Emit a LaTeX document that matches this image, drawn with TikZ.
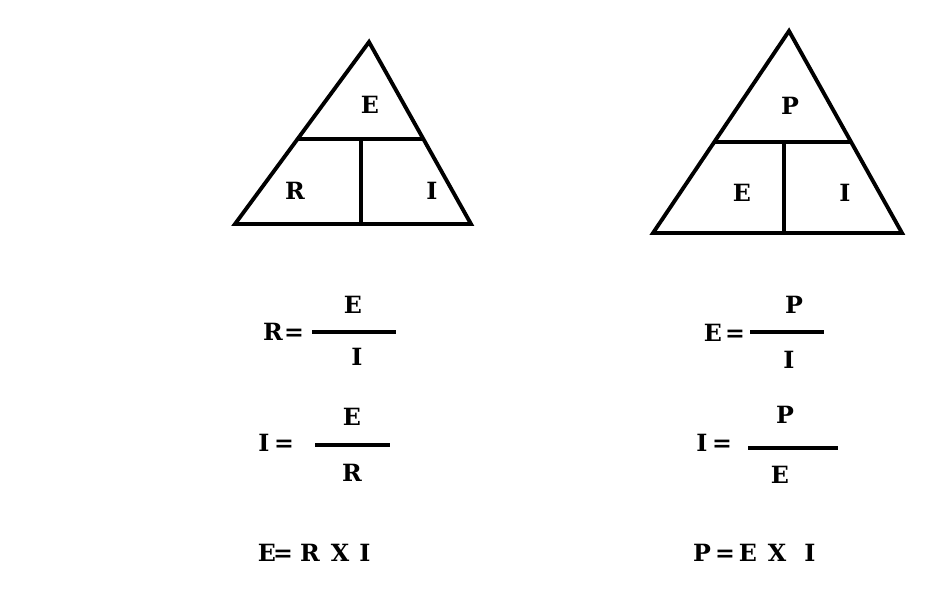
\documentclass[tikz,border=0pt]{standalone}
\usepackage{fontspec}
\setmainfont{DejaVu Serif}

\begin{document}
\begin{tikzpicture} [x=0.02cm, y=-0.02cm,
	sym/.style={font=\fontsize{13.5}{15}\selectfont\bfseries, inner sep=0pt, anchor=base},
	tri/.style={line width=2.2pt, line join=miter},
	bar/.style={line width=1.9pt}]
\useasboundingbox (0,0) rectangle (926,592);

% left triangle
\draw [tri] (369,42) -- (235,224) -- (471,224) -- cycle;
\draw [tri] (298,139) -- (423,139);
\draw [tri] (361,139) -- (361,224);
% labels
\node [sym] (tE) at (370,113) {E};
\node [sym] (tR) at (295,199) {R};
\node [sym] (tI) at (432,199) {I};

% right triangle
\draw [tri] (789,31) -- (653,233) -- (902,233) -- cycle;
\draw [tri] (714,142) -- (851,142);
\draw [tri] (784,142) -- (784,233);
% labels
\node [sym] (tP) at (790,114) {P};
\node [sym] (tE2) at (742,201) {E};
\node [sym] (tI2) at (845,201) {I};

% R = E / I
\node [sym] (r1) at (273,340) {R};
\node [sym] (eq1) at (294,340) {=};
\draw [bar] (312,332) -- (396,332);
\node [sym] (n1) at (353,313) {E};
\node [sym] (d1) at (357,365) {I};

% I = E / R
\node [sym] (i2) at (264,451) {I};
\node [sym] (eq2) at (284,451) {=};
\draw [bar] (315,445) -- (390,445);
\node [sym] (n2) at (352,425) {E};
\node [sym] (d2) at (352,481) {R};

% E = R X I
\node [sym] (e3) at (267,561) {E};
\node [sym] (eq3) at (283,561) {=};
\node [sym] (r3) at (310,561) {R};
\node [sym] (x3) at (340,561) {X};
\node [sym] (i3) at (365,561) {I};

% E = P / I
\node [sym] (e4) at (713,341) {E};
\node [sym] (eq4) at (735,341) {=};
\draw [bar] (750,332) -- (824,332);
\node [sym] (n4) at (794,313) {P};
\node [sym] (d4) at (789,368) {I};

% I = P / E
\node [sym] (i5) at (702,451) {I};
\node [sym] (eq5) at (722,451) {=};
\draw [bar] (748,448) -- (838,448);
\node [sym] (n5) at (785,423) {P};
\node [sym] (d5) at (780,483) {E};

% P = E X I
\node [sym] (p6) at (702,561) {P};
\node [sym] (eq6) at (725,561) {=};
\node [sym] (e6) at (748,561) {E};
\node [sym] (x6) at (777,561) {X};
\node [sym] (i6) at (810,561) {I};

\end{tikzpicture}
\end{document}
